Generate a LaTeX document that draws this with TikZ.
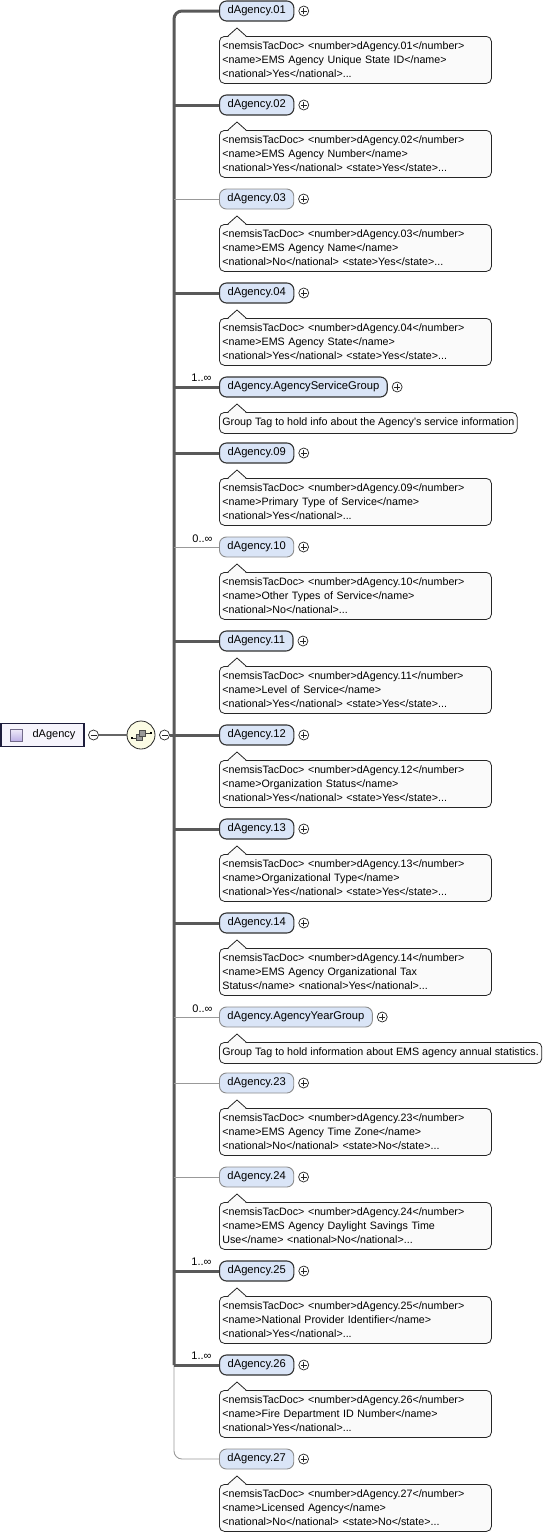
\documentclass[tikz,border=0pt]{standalone}
\usepackage{fontspec}
\setmainfont{Liberation Sans}
\usepackage{xcolor}
\usepackage{tikz}
\usetikzlibrary{positioning}
\definecolor{elemfill}{RGB}{218,229,247}
\definecolor{annfill}{RGB}{250,250,250}
\definecolor{compfill}{RGB}{251,251,228}
\definecolor{rootfill}{RGB}{246,244,252}
\definecolor{rootedge}{RGB}{30,30,60}
\definecolor{lavender}{RGB}{190,176,230}
\tikzset{
  elem/.style={rectangle, rounded corners=7pt, draw=black!80, line width=1.1pt,
               fill=elemfill, anchor=west, minimum height=20pt, inner xsep=8pt,
               inner ysep=0pt, font=\fontsize{11.2}{12}\selectfont},
  optelem/.style={elem, draw=black!45, line width=0.9pt},
  ann/.style={rectangle, rounded corners=5pt, draw=black!85, line width=0.8pt,
              fill=annfill, anchor=north west, inner xsep=3pt, inner ysep=0pt,
              font=\fontsize{10.7}{14}\selectfont},
  annbox/.style={ann, text width=266pt, align=left, minimum height=47pt},
  groupbox/.style={ann, minimum height=21pt},
  plus/.style={circle, draw=black!85, fill=white, line width=0.7pt, minimum size=10pt,
               inner sep=0pt, path picture={
                 \draw[line width=0.7pt] ([xshift=-3pt]path picture bounding box.center)
                   -- ([xshift=3pt]path picture bounding box.center)
                   ([yshift=-3pt]path picture bounding box.center)
                   -- ([yshift=3pt]path picture bounding box.center);}},
  minus/.style={circle, draw=black!85, fill=white, line width=0.7pt, minimum size=10pt,
                inner sep=0pt, path picture={
                  \draw[line width=0.7pt] ([xshift=-3pt]path picture bounding box.center)
                    -- ([xshift=3pt]path picture bounding box.center);}},
  comp/.style={circle, draw=black!85, fill=compfill, line width=0.8pt, minimum size=28pt,
               inner sep=0pt},
  rootbox/.style={rectangle, draw=rootedge, line width=1.3pt, fill=rootfill,
                  minimum width=83pt, minimum height=23pt},
  rooticon/.style={rectangle, draw=lavender!60!black, line width=0.6pt,
                   top color=lavender!25, bottom color=lavender, minimum size=12pt, inner sep=0pt},
  mandline/.style={line width=3pt, draw=black!65},
  optline/.style={line width=0.9pt, draw=black!40},
  rootline/.style={line width=2pt, draw=black!60},
  mult/.style={anchor=south east, inner sep=0pt, xshift=-6pt, yshift=4pt,
               font=\fontsize{11}{12}\selectfont},
  notch/.pic={
    \fill[annfill] (9,1) -- (18,-8) -- (27,1) -- cycle;
    \draw[black!85, line width=0.8pt, line join=round] (9,0) -- (18,-8) -- (27,0);
  },
}
\begin{document}
\begin{tikzpicture}[x=1pt, y=-1pt]
  \useasboundingbox (0,0) rectangle (552,1534);
  \coordinate (trunk) at (174,0);

  % root element and sequence compositor
  \node[rootbox] (root) at (42.5,735) {};
  \node[rooticon] (rooticon) at (16,735) {};
  \node[font=\fontsize{11}{12}\selectfont] (rootname) at (54,735) {dAgency};
  \node[minus] (rminus) at (93.5,735) {};
  \node[comp] (comp) at (141,735) {};
  \node[minus] (cminus) at (164.5,735) {};
  \draw[rootline] (rminus) -- (comp);
  \draw[mandline] (cminus) -- (trunk |- cminus);
  \draw[black!80, line width=0.6pt] ([shift={(-9,3)}]comp.center) -- ([shift={(-4,3)}]comp.center)
    ([shift={(4,-2)}]comp.center) -- ([shift={(10,-2)}]comp.center);
  \fill[black] ([shift={(-10,2)}]comp.center) rectangle ([shift={(-8,4)}]comp.center);
  \fill[black] ([shift={(9,-3)}]comp.center) rectangle ([shift={(11,-1)}]comp.center);
  \draw[black!70, fill=black!40, line width=0.5pt] ([shift={(-5,-0.7)}]comp.center) rectangle ([shift={(1,5.3)}]comp.center);
  \draw[black!70, fill=black!40, line width=0.5pt] ([shift={(-1.7,-5)}]comp.center) rectangle ([shift={(4.3,1)}]comp.center);

  % children
  \node[elem] (e01) at (219,11) {dAgency.01};
  \node[plus, right=4pt of e01] (p01) {};
  \node[annbox] (a01) at (219,36) {<nemsisTacDoc> <number>dAgency.01</number>\\<name>EMS Agency Unique State ID</name>\\<national>Yes</national>...};
  \pic at (a01.north west) {notch};

  \node[elem] (e02) at (219,105) {dAgency.02};
  \node[plus, right=4pt of e02] (p02) {};
  \node[annbox] (a02) at (219,130) {<nemsisTacDoc> <number>dAgency.02</number>\\<name>EMS Agency Number</name>\\<national>Yes</national> <state>Yes</state>...};
  \pic at (a02.north west) {notch};

  \node[optelem] (e03) at (219,199) {dAgency.03};
  \node[plus, right=4pt of e03] (p03) {};
  \node[annbox] (a03) at (219,224) {<nemsisTacDoc> <number>dAgency.03</number>\\<name>EMS Agency Name</name>\\<national>No</national> <state>Yes</state>...};
  \pic at (a03.north west) {notch};

  \node[elem] (e04) at (219,293) {dAgency.04};
  \node[plus, right=4pt of e04] (p04) {};
  \node[annbox] (a04) at (219,318) {<nemsisTacDoc> <number>dAgency.04</number>\\<name>EMS Agency State</name>\\<national>Yes</national> <state>Yes</state>...};
  \pic at (a04.north west) {notch};

  \node[elem] (esg) at (219,387) {dAgency.AgencyServiceGroup};
  \node[plus, right=4pt of esg] (psg) {};
  \node[groupbox] (asg) at (219,412) {Group Tag to hold info about the Agency's service information};
  \pic at (asg.north west) {notch};

  \node[elem] (e09) at (219,453) {dAgency.09};
  \node[plus, right=4pt of e09] (p09) {};
  \node[annbox] (a09) at (219,478) {<nemsisTacDoc> <number>dAgency.09</number>\\<name>Primary Type of Service</name>\\<national>Yes</national>...};
  \pic at (a09.north west) {notch};

  \node[optelem] (e10) at (219,547) {dAgency.10};
  \node[plus, right=4pt of e10] (p10) {};
  \node[annbox] (a10) at (219,572) {<nemsisTacDoc> <number>dAgency.10</number>\\<name>Other Types of Service</name>\\<national>No</national>...};
  \pic at (a10.north west) {notch};

  \node[elem] (e11) at (219,641) {dAgency.11};
  \node[plus, right=4pt of e11] (p11) {};
  \node[annbox] (a11) at (219,666) {<nemsisTacDoc> <number>dAgency.11</number>\\<name>Level of Service</name>\\<national>Yes</national> <state>Yes</state>...};
  \pic at (a11.north west) {notch};

  \node[elem] (e12) at (219,735) {dAgency.12};
  \node[plus, right=4pt of e12] (p12) {};
  \node[annbox] (a12) at (219,760) {<nemsisTacDoc> <number>dAgency.12</number>\\<name>Organization Status</name>\\<national>Yes</national> <state>Yes</state>...};
  \pic at (a12.north west) {notch};

  \node[elem] (e13) at (219,829) {dAgency.13};
  \node[plus, right=4pt of e13] (p13) {};
  \node[annbox] (a13) at (219,854) {<nemsisTacDoc> <number>dAgency.13</number>\\<name>Organizational Type</name>\\<national>Yes</national> <state>Yes</state>...};
  \pic at (a13.north west) {notch};

  \node[elem] (e14) at (219,923) {dAgency.14};
  \node[plus, right=4pt of e14] (p14) {};
  \node[annbox] (a14) at (219,948) {<nemsisTacDoc> <number>dAgency.14</number>\\<name>EMS Agency Organizational Tax\\Status</name> <national>Yes</national>...};
  \pic at (a14.north west) {notch};

  \node[optelem] (eyg) at (219,1017) {dAgency.AgencyYearGroup};
  \node[plus, right=4pt of eyg] (pyg) {};
  \node[groupbox] (ayg) at (219,1042) {Group Tag to hold information about EMS agency annual statistics.};
  \pic at (ayg.north west) {notch};

  \node[optelem] (e23) at (219,1083) {dAgency.23};
  \node[plus, right=4pt of e23] (p23) {};
  \node[annbox] (a23) at (219,1108) {<nemsisTacDoc> <number>dAgency.23</number>\\<name>EMS Agency Time Zone</name>\\<national>No</national> <state>No</state>...};
  \pic at (a23.north west) {notch};

  \node[optelem] (e24) at (219,1177) {dAgency.24};
  \node[plus, right=4pt of e24] (p24) {};
  \node[annbox] (a24) at (219,1202) {<nemsisTacDoc> <number>dAgency.24</number>\\<name>EMS Agency Daylight Savings Time\\Use</name> <national>No</national>...};
  \pic at (a24.north west) {notch};

  \node[elem] (e25) at (219,1271) {dAgency.25};
  \node[plus, right=4pt of e25] (p25) {};
  \node[annbox] (a25) at (219,1296) {<nemsisTacDoc> <number>dAgency.25</number>\\<name>National Provider Identifier</name>\\<national>Yes</national>...};
  \pic at (a25.north west) {notch};

  \node[elem] (e26) at (219,1365) {dAgency.26};
  \node[plus, right=4pt of e26] (p26) {};
  \node[annbox] (a26) at (219,1390) {<nemsisTacDoc> <number>dAgency.26</number>\\<name>Fire Department ID Number</name>\\<national>Yes</national>...};
  \pic at (a26.north west) {notch};

  \node[optelem] (e27) at (219,1459) {dAgency.27};
  \node[plus, right=4pt of e27] (p27) {};
  \node[annbox] (a27) at (219,1484) {<nemsisTacDoc> <number>dAgency.27</number>\\<name>Licensed Agency</name>\\<national>No</national> <state>No</state>...};
  \pic at (a27.north west) {notch};

  % trunk and connectors
  \draw[mandline, rounded corners=8pt] (e01.west) -| (trunk |- e26.west);
  \draw[optline, rounded corners=8pt] (trunk |- e26.west) |- (e27.west);
  \draw[mandline] (trunk |- e02.west) -- (e02.west);
  \draw[optline] (trunk |- e03.west) -- (e03.west);
  \draw[mandline] (trunk |- e04.west) -- (e04.west);
  \draw[mandline] (trunk |- esg.west) -- (esg.west) node[mult, pos=1] {1..∞};
  \draw[mandline] (trunk |- e09.west) -- (e09.west);
  \draw[optline] (trunk |- e10.west) -- (e10.west) node[mult, pos=1] {0..∞};
  \draw[mandline] (trunk |- e11.west) -- (e11.west);
  \draw[mandline] (trunk |- e12.west) -- (e12.west);
  \draw[mandline] (trunk |- e13.west) -- (e13.west);
  \draw[mandline] (trunk |- e14.west) -- (e14.west);
  \draw[optline] (trunk |- eyg.west) -- (eyg.west) node[mult, pos=1] {0..∞};
  \draw[optline] (trunk |- e23.west) -- (e23.west);
  \draw[optline] (trunk |- e24.west) -- (e24.west);
  \draw[mandline] (trunk |- e25.west) -- (e25.west) node[mult, pos=1] {1..∞};
  \draw[mandline] (trunk |- e26.west) -- (e26.west) node[mult, pos=1] {1..∞};
\end{tikzpicture}
\end{document}
